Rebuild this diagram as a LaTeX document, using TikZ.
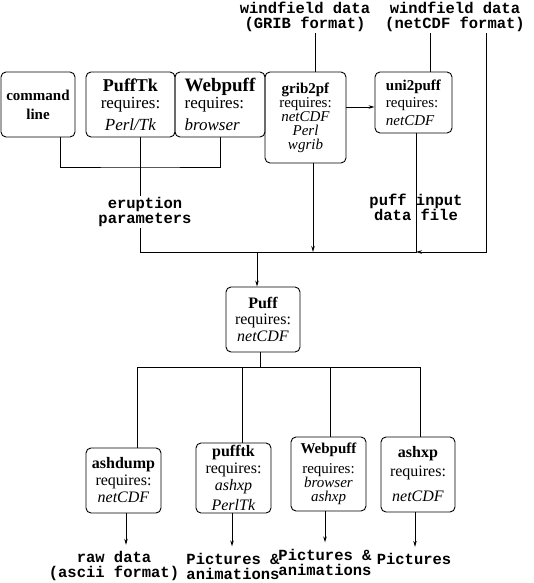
\documentclass[tikz,border=0pt]{standalone}
\usepackage{fontspec}
\setmainfont{Liberation Serif}
\setmonofont{Liberation Mono}
\usetikzlibrary{arrows.meta}
\newcommand{\fsz}[2]{\fontsize{#1}{#2}\selectfont}
\tikzset{prog/.style={draw,rounded corners=5pt,align=center,inner sep=0pt},
	datalbl/.style={align=center,inner sep=1pt,font=\ttfamily\bfseries\fsz{15.5}{15}}}

\begin{document}
\begin{tikzpicture}[x=1pt,y=-1pt,line width=0.9pt,>={Stealth[length=6pt,width=3.5pt]}]
			\useasboundingbox (0,0) rectangle (534,583);
			\node[prog,minimum width=74pt,minimum height=65pt,font=\bfseries\fsz{15}{19}] (cmd)at(38,104.5) {command\\line};
			\node[prog,minimum width=89pt,minimum height=65pt,font=\fsz{17}{17}] (pufftop)at(130.5,104.5) {{\bfseries\fsz{18}{17}PuffTk}\\requires:\\[5pt]\textit{Perl/Tk}};
			\node[prog,minimum width=90pt,minimum height=65pt,align=left,font=\fsz{17}{14}] (webtop)at(220,104.5) {{\bfseries\fsz{19}{14}Webpuff}\\requires:\\[6pt]\textit{browser}};
			\node[prog,minimum width=81pt,minimum height=91pt,font=\fsz{15}{14}] (grib)at(305.5,117.5) {\textbf{grib2pf}\\requires:\\\textit{netCDF}\\\textit{Perl}\\\textit{wgrib}};
			\node[prog,minimum width=77pt,minimum height=61pt,align=left,font=\fsz{15}{17.5}] (uni)at(413.5,102.5) {\textbf{uni2puff}\\requires:\\\textit{netCDF}};
			\node[prog,minimum width=74pt,minimum height=65pt,font=\fsz{16}{16}] (puff)at(263,319.5) {\textbf{Puff}\\requires:\\[1pt]\textit{netCDF}};
			\node[prog,minimum width=75pt,minimum height=65pt,font=\fsz{16}{17}] (ashdump)at(123.5,480.5) {\textbf{ashdump}\\requires:\\\textit{netCDF}};
			\node[prog,minimum width=75pt,minimum height=70pt,font=\fsz{16}{17}] (pufftk)at(233.5,478) {\textbf{pufftk}\\requires:\\\textit{ashxp}\\[3pt]\textit{PerlTk}};
			\node[prog,minimum width=75pt,minimum height=74pt,font=\fsz{15}{14}] (webbot)at(328.5,474) {\textbf{Webpuff}\\[6pt]requires:\\\textit{browser}\\\textit{ashxp}};
			\node[prog,minimum width=74pt,minimum height=75pt,font=\fsz{16}{19}] (ashxp)at(418,474.5) {\textbf{ashxp}\\requires:\\[6pt]\textit{netCDF}};
			
			\node[datalbl] (gribdat)at(305,17) {windfield data\\(GRIB format)};
			\node[datalbl] (cdfdat)at(455,17) {windfield data\\(netCDF format)};
			\node[datalbl] (erupt)at(145,212) {eruption\\parameters};
			\node[datalbl] (pfile)at(416,207) {puff input\\data file};
			\node[datalbl] (rawout)at(114,566) {raw data\\(ascii format)};
			\node[datalbl] (picout1)at(233,566) {Pictures \&\\animations};
			\node[datalbl] (picout2)at(325,562) {Pictures \&\\animations};
			\node[datalbl] (picout3)at(414,559) {Pictures};
			
			\coordinate (c1)at(140,167);
			\coordinate (bus)at(140,252);
			\coordinate (busR)at(416,252);
			\coordinate (fanL)at(137,367);
			\coordinate (fanR)at(420,367);
			
			\draw (cmd.south -| 60,0) |- (c1) -| (webtop.south);
			\draw (pufftop.south -| c1) -- (erupt.north -| c1);
			\draw (erupt.south -| c1) -- (bus) -- (busR) -- (uni.south -| busR);
			\draw (gribdat.south -| 315,0) -- (grib.north -| 315,0);
			\draw (cdfdat.south -| 430,0) -- (uni.north -| 430,0);
			\draw[->] (cdfdat.south -| 486,0) |- (busR);
			\draw[->] (grib.east |- 0,107) -- (uni.west |- 0,107);
			\draw[->] (grib.south -| 313,0) -- (bus -| 313,0);
			\draw[->] (bus -| 257,0) -- (puff.north -| 257,0);
			\draw (puff.south -| 260,0) -- (fanL -| 260,0);
			\draw (ashdump.north -| fanL) -- (fanL) -- (fanR) -- (ashxp.north -| fanR);
			\draw (fanL -| 242,0) -- (pufftk.north -| 242,0);
			\draw (fanL -| 330,0) -- (webbot.north -| 330,0);
			\draw[->,shorten >=5pt] (ashdump.south -| 126,0) -- (rawout.north -| 126,0);
			\draw[->,shorten >=5pt] (pufftk.south -| 232,0) -- (picout1.north -| 232,0);
			\draw[->,shorten >=5pt] (webbot.south -| 325,0) -- (picout2.north -| 325,0);
			\draw[->,shorten >=5pt] (ashxp.south -| 415,0) -- (picout3.north -| 415,0);
		\end{tikzpicture}
\end{document}
